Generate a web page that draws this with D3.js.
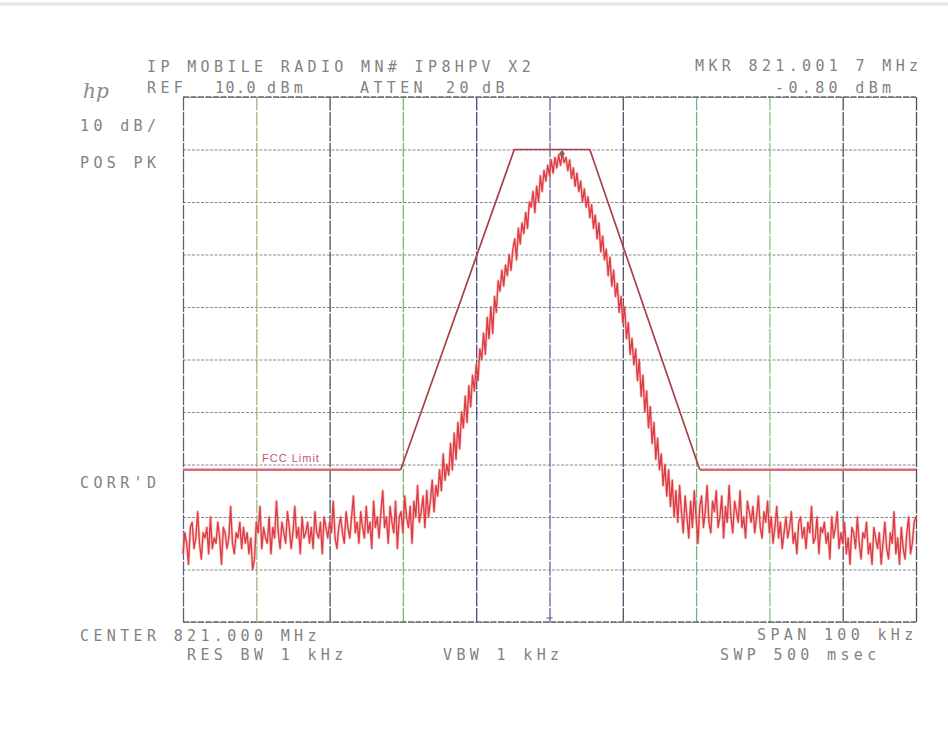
<!DOCTYPE html>
<html>
<head>
<meta charset="utf-8">
<script src="https://cdn.jsdelivr.net/npm/d3@7"></script>
<style>
  html, body { margin: 0; padding: 0; background: #fff; }
  svg { display: block; }
  .lbl { font-family: "DejaVu Sans Mono", "Liberation Mono", monospace; font-size: 15px; fill: #828282; letter-spacing: 4.35px; white-space: pre; }
  .lbl.tight { letter-spacing: 1.5px; }
</style>
</head>
<body>
<svg id="chart" width="948" height="733"></svg>
<script>
// Spectrum analyser screen: centre 821.000 MHz, span 100 kHz, ref 10 dBm, 10 dB/div
const centerMHz = 821.000;
const spanKHz = 100;
const refLevel = 10;          // dBm at top graticule
const dbPerDiv = 10;
const divisions = 10;

// Trace: 401 sweep points from -50 kHz to +50 kHz about centre (dBm)
const traceDbm = [
  -77, -73, -75, -79, -72, -71, -76, -74, -69, -75,
  -78, -73, -74, -72, -77, -70, -76, -74, -75, -71,
  -74, -79, -72, -73, -76, -74, -68, -75, -77, -73,
  -74, -71, -76, -72, -75, -73, -77, -74, -80, -78,
  -71, -73, -68, -76, -72, -74, -75, -70, -77, -72,
  -74, -67, -73, -76, -71, -73, -75, -69, -72, -76,
  -73, -68, -74, -72, -77, -70, -74, -73, -71, -75,
  -72, -76, -69, -73, -74, -71, -77, -70, -72, -74,
  -71, -73, -67, -74, -76, -72, -70, -73, -75, -69,
  -72, -74, -70, -66, -73, -71, -75, -69, -72, -74,
  -68, -73, -71, -76, -67, -72, -70, -74, -69, -65,
  -72, -70, -75, -68, -71, -73, -67, -76, -70, -69,
  -73, -66, -70, -72, -68, -75, -67, -70, -64, -71,
  -69, -66, -72, -65, -70, -67, -63, -69, -64, -66,
  -61, -65, -58, -63, -60, -62, -56, -61, -54, -59,
  -52, -57, -50, -53, -47, -52, -45, -49, -43, -46,
  -41, -44, -38, -40, -35, -39, -32, -36, -30, -35,
  -28, -31, -25, -27, -23, -26, -22, -24, -20, -23,
  -19, -17, -21, -15, -18, -14, -16, -12, -15, -10,
  -11, -8, -12, -7, -10, -5, -8, -4, -6, -3,
  -5, -2, -4.5, -1.5, -3.5, -1, -3, -0.8, -2.5, -1.5,
  -4, -2, -5.5, -3.5, -7, -4.5, -8, -6, -10, -7.5,
  -11, -9, -13, -10.5, -15, -12.5, -17, -14, -19.5, -16.5,
  -21, -19, -24, -20.5, -26, -23, -28, -25.5, -31, -28,
  -33, -30, -36, -33, -39, -36, -41, -38, -44, -40,
  -47, -43, -50, -46, -53, -49, -56, -52, -59, -55,
  -61, -58, -64, -60, -66, -61, -68, -63, -70, -65,
  -71, -64, -69, -73, -66, -70, -74, -67, -72, -65,
  -70, -75, -68, -66, -72, -69, -64, -71, -73, -67,
  -69, -65, -72, -70, -66, -74, -68, -71, -64, -70,
  -73, -67, -69, -71, -65, -72, -70, -74, -67, -69,
  -71, -68, -73, -70, -66, -72, -74, -69, -71, -67,
  -73, -70, -75, -72, -68, -74, -71, -76, -73, -70,
  -74, -72, -69, -75, -73, -77, -71, -70, -74, -72,
  -76, -71, -73, -68, -75, -74, -70, -77, -72, -73,
  -71, -75, -73, -78, -70, -74, -72, -69, -76, -73,
  -75, -71, -77, -74, -79, -72, -73, -76, -70, -75,
  -78, -73, -74, -71, -77, -75, -79, -72, -74, -76,
  -73, -79, -75, -71, -76, -78, -73, -75, -69, -77,
  -74, -79, -72, -76, -78, -73, -70, -77, -75, -71,
  -70
];
const binKHz = spanKHz / (traceDbm.length - 1);

// FCC emission mask (offset kHz, level dBm)
const maskOffsetKHz = [-50, -20.3, -4.8, 5.5, 20.5, 50];
const maskDbm = [-61, -61, 0, 0, -61, -61];

// Marker readout
const markerOffsetKHz = 1.7;
const markerDbm = -0.8;

// Screen annotation texts
const annotationTexts = [
  "IP MOBILE RADIO MN# IP8HPV X2",
  "REF", "10.0", "dBm", "ATTEN", "20", "dB",
  "MKR 821.001 7 MHz", "-0.80 dBm",
  "10 dB/", "POS PK", "CORR'D",
  "CENTER 821.000 MHz", "RES BW 1 kHz", "VBW 1 kHz",
  "SPAN 100 kHz", "SWP 500 msec"
];
const maskLabel = "FCC Limit";

// Screen layout for each annotation: [x, baseline, tight]
const annotationLayout = [
  [147, 72, 0],
  [147, 93, 0], [215, 93, 1], [267, 93, 0], [360, 93, 0], [446, 93, 0], [482, 93, 0],
  [695, 71, 0], [775, 93, 0],
  [80, 131, 0], [80, 168, 0], [80, 488, 0],
  [80, 641, 0], [187, 660, 0], [443, 660, 0],
  [757, 640, 0], [720, 660, 0]
];

// Graticule pen colours (vertical lines left to right)
const vGridColors = ["#5c6080", "#9ab88a", "#4e4e60", "#7db57d", "#4a4a7c", "#6464a4",
                     "#5a4a6a", "#7db27d", "#8cbf8c", "#5a4a6a", "#4e4e5a"];

const svg = d3.select("#chart");
const plotLeft = 183, plotRight = 916, plotTop = 97, plotBottom = 622;

const x = d3.scaleLinear().domain([-spanKHz / 2, spanKHz / 2]).range([plotLeft, plotRight]);
const y = d3.scaleLinear().domain([refLevel - dbPerDiv * divisions, refLevel]).range([plotBottom, plotTop]);

// faint scan edge
svg.append("line").attr("x1", 0).attr("x2", 948).attr("y1", 4).attr("y2", 4)
  .attr("stroke", "#e4e4e4").attr("stroke-width", 3);

// Horizontal graticule
const yAxis = d3.axisLeft(y)
  .tickValues(d3.range(refLevel - dbPerDiv * divisions, refLevel + 1, dbPerDiv))
  .tickSize(-(plotRight - plotLeft)).tickFormat("");
const gy = svg.append("g").attr("transform", `translate(${plotLeft},0)`).call(yAxis);
gy.select(".domain").remove();
gy.selectAll(".tick line").attr("stroke", "#8a8a8a").attr("stroke-width", 1.1)
  .attr("stroke-dasharray", "3,1.5");

// Vertical graticule
const xAxis = d3.axisBottom(x)
  .tickValues(d3.range(-spanKHz / 2, spanKHz / 2 + 1, spanKHz / divisions))
  .tickSize(-(plotBottom - plotTop)).tickFormat("");
const gx = svg.append("g").attr("transform", `translate(0,${plotBottom})`).call(xAxis);
gx.select(".domain").remove();
gx.selectAll(".tick line").attr("stroke", (d, i) => vGridColors[i]).attr("stroke-width", 1.3)
  .attr("stroke-dasharray", "14,1.5");

// Border top/bottom slightly stronger
[plotTop, plotBottom].forEach(v => {
  svg.append("line").attr("x1", plotLeft).attr("x2", plotRight).attr("y1", v).attr("y2", v)
    .attr("stroke", "#6a6a6a").attr("stroke-width", 1.3).attr("stroke-dasharray", "6,1.5");
});

// Centre reference tick on bottom border
svg.append("path")
  .attr("d", `M${x(0) - 3},${plotBottom - 4} L${x(0) + 3},${plotBottom - 4}`)
  .attr("stroke", "#6a6a8a").attr("stroke-width", 1.2);

// Mask outer flat segments (limit line)
const maskPts = maskOffsetKHz.map((f, i) => [x(f), y(maskDbm[i])]);
svg.append("line").attr("x1", maskPts[0][0]).attr("x2", maskPts[1][0])
  .attr("y1", maskPts[0][1]).attr("y2", maskPts[1][1])
  .attr("stroke", "#dc6a74").attr("stroke-width", 2.6);
svg.append("line").attr("x1", maskPts[4][0]).attr("x2", maskPts[5][0])
  .attr("y1", maskPts[4][1]).attr("y2", maskPts[5][1])
  .attr("stroke", "#dc6a74").attr("stroke-width", 2.6);

// Mask sloped and top sections
svg.append("path")
  .datum(maskOffsetKHz.slice(1, 5).map((f, i) => [f, maskDbm[i + 1]]))
  .attr("d", d3.line().x(d => x(d[0])).y(d => y(d[1])))
  .attr("fill", "none").attr("stroke", "#a8404a").attr("stroke-width", 1.7)
  .attr("stroke-linejoin", "round");

// Mask label
svg.append("text").attr("x", 262).attr("y", y(-61) - 8)
  .attr("font-family", "Liberation Sans, Arial, sans-serif").attr("font-size", 11)
  .attr("fill", "#c4586a").attr("letter-spacing", 1).text(maskLabel);

// Trace
const line = d3.line()
  .x((d, i) => x(-spanKHz / 2 + i * binKHz))
  .y(d => y(d));
svg.append("path").datum(traceDbm).attr("d", line)
  .attr("fill", "none").attr("stroke", "#f39a7a").attr("stroke-width", 3)
  .attr("stroke-linejoin", "round").attr("opacity", 0.45);
svg.append("path").datum(traceDbm).attr("d", line)
  .attr("fill", "none").attr("stroke", "#dc3c4c").attr("stroke-width", 1.4)
  .attr("stroke-linejoin", "round");

// Marker diamond at peak
const mx = x(markerOffsetKHz), my = y(markerDbm);
svg.append("path").attr("d", `M${mx},${my - 4} L${mx + 3},${my} L${mx},${my + 4} L${mx - 3},${my} Z`)
  .attr("fill", "#8a6070");

// hp logo
svg.append("text").attr("x", 83).attr("y", 98)
  .attr("font-family", "DejaVu Serif, serif").attr("font-style", "italic")
  .attr("font-size", 20).attr("fill", "#8a8a8a").text("hp");

// Text annotations
svg.selectAll("text.lbl").data(annotationTexts).join("text")
  .attr("class", (d, i) => annotationLayout[i][2] ? "lbl tight" : "lbl")
  .attr("x", (d, i) => annotationLayout[i][0])
  .attr("y", (d, i) => annotationLayout[i][1])
  .text(d => d);
</script>
</body>
</html>
